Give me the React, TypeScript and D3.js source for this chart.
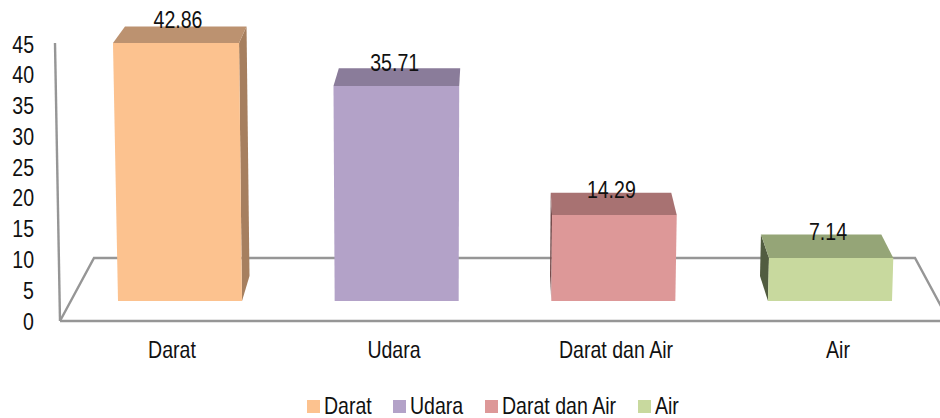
import React from "react";
import * as d3 from "d3";

const categories = ["Darat", "Udara", "Darat dan Air", "Air"];
const values = [42.86, 35.71, 14.29, 7.14];
const valueLabels = ["42.86", "35.71", "14.29", "7.14"];
const yTicks = [0, 5, 10, 15, 20, 25, 30, 35, 40, 45];
const frontColors = ["#FCC28F", "#B3A2C8", "#DD9898", "#C8D99E"];
const topColors = ["#BC9270", "#8A7B9A", "#A87272", "#95A577"];
const sideColors = ["#A67F5E", "#7D6F8C", "#744C4C", "#515C3F"];
const legendSwatchX = [307, 393, 485, 638];

const FONT = "'Liberation Sans', Arial, sans-serif";
const AXIS = "#969696";

const tickY = d3.scaleLinear().domain([0, 45]).range([322, 45]);
const frontY = d3.scaleLinear().domain([0, 45]).range([301, 30.1]);
const rise = d3.scaleLinear().domain([0, 45]).range([25, 16]);
const labelOffset = d3.scaleLinear().domain([0, 45]).range([26, 22]);
const barX = d3.scalePoint<string>().domain(categories).range([180, 830]);
const catX = d3.scalePoint<string>().domain(categories).range([172, 838]);
const backLeft = d3.scaleLinear().domain([180, 830]).range([12, -8]);
const backRight = d3.scaleLinear().domain([180, 830]).range([7.5, -12]);
const poly = (p: number[][]) => p.map((q) => q.join(",")).join(" ");
const lean = (x: number, v: number) => 0.000388 * v * (x - 420);

function T(props: { x: number; y: number; size?: number; anchor?: string; sx?: number; children: React.ReactNode }) {
  const { x, y, size = 23, anchor = "middle", sx = 0.85, children } = props;
  return (
    <text
      transform={`translate(${x},${y}) scale(${sx},1)`}
      textAnchor={anchor}
      dominantBaseline="central"
      fontFamily={FONT}
      fontSize={size}
      fill="#111"
    >
      {children}
    </text>
  );
}

export default function App() {
  const half = 62;
  return (
    <svg width={940} height={418} style={{ position: "absolute", left: 0, top: 0, background: "#fff" }}>
      <defs>
        <filter id="soft" x="-5%" y="-5%" width="110%" height="110%">
          <feGaussianBlur stdDeviation="0.35" />
        </filter>
      </defs>
      <g fill="none" stroke={AXIS} strokeWidth={2.4} filter="url(#soft)">
        <line x1={55} y1={43} x2={60} y2={321} />
        <polyline points={poly([[60, 321], [94, 258], [915, 258], [949, 321]])} />
        <line x1={60} y1={321} x2={949} y2={321} />
      </g>
      {yTicks.map((t) => (
        <T key={t} x={34} y={tickY(t)} anchor="end">{t}</T>
      ))}
      <g filter="url(#soft)">
        {categories.map((c, i) => {
          const v = values[i];
          const cx = barX(c) as number;
          const bl = cx - half;
          const br = cx + half;
          const y0 = frontY(0);
          const y1 = frontY(v);
          const tl = bl + lean(bl, v);
          const tr = br + lean(br, v);
          const r = rise(v);
          const bkL = tl + backLeft(cx);
          const bkR = tr + backRight(cx);
          const r0 = rise(0);
          const sideR = bkR > tr + 1.5;
          const sideL = bkL < tl;
          return (
            <g key={c}>
              {sideR && (
                <polygon
                  fill={sideColors[i]}
                  points={poly([[tr, y1], [bkR, y1 - r], [br + backRight(cx), y0 - r0], [br, y0]])}
                />
              )}
              {sideL && (
                <polygon
                  fill={sideColors[i]}
                  points={poly([[tl, y1], [bkL, y1 - r], [bl + backLeft(cx), y0 - r0], [bl, y0]])}
                />
              )}
              <polygon fill={topColors[i]} points={poly([[tl, y1], [bkL, y1 - r], [bkR, y1 - r], [tr, y1]])} />
              <polygon fill={frontColors[i]} points={poly([[tl, y1], [tr, y1], [br, y0], [bl, y0]])} />
            </g>
          );
        })}
      </g>
      {categories.map((c, i) => (
        <T key={c} x={(barX(c) as number) - 2} y={frontY(values[i]) - labelOffset(values[i])}>
          {valueLabels[i]}
        </T>
      ))}
      {categories.map((c) => (
        <T key={c} x={catX(c) as number} y={350.5}>{c}</T>
      ))}
      {categories.map((c, i) => (
        <g key={c}>
          <rect x={legendSwatchX[i]} y={400} width={13} height={13} fill={frontColors[i]} />
          <T x={legendSwatchX[i] + 17} y={406} anchor="start">{c}</T>
        </g>
      ))}
    </svg>
  );
}
